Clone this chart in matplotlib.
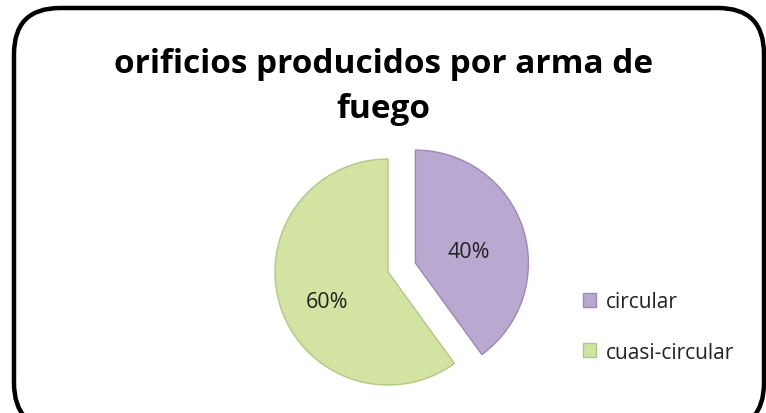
import matplotlib
matplotlib.use("Agg")
import matplotlib.pyplot as plt
from matplotlib.patches import FancyBboxPatch
from matplotlib.transforms import offset_copy

title = "orificios producidos por arma de\nfuego"
labels = ["circular", "cuasi-circular"]
values = [40, 60]
colors = ["#B9A9D1", "#D3E3A2"]
edge_colors = ["#9A88B8", "#B2C783"]

W, H = 766, 414
fig = plt.figure(figsize=(W / 100, H / 100), dpi=100)
fig.patch.set_facecolor("white")

# rounded border (bottom runs off the image)
x0, y0, x1, y1 = 14, 9, 764, 430
box = FancyBboxPatch((x0 / W, 1 - y1 / H), (x1 - x0) / W, (y1 - y0) / H,
                     boxstyle="round,pad=0,rounding_size=0.06",
                     transform=fig.transFigure, fill=False, edgecolor="black",
                     linewidth=3.2, mutation_aspect=W / H)
fig.add_artist(box)

fig.text(383 / W, 1 - 87 / H, title, ha="center", va="center", multialignment="center",
         fontsize=24, fontweight="bold", family=["Open Sans", "DejaVu Sans"],
         linespacing=1.5, color="black")

# pie axes: green centre at (388,273), radius ~113 px
R = 113
cx, cy = 388, 273
ax = fig.add_axes([(cx - R * 1.4) / W, 1 - (cy + R * 1.4) / H, 2.8 * R / W, 2.8 * R / H])
wedges, texts, autotexts = ax.pie(
    values, colors=colors, startangle=90, counterclock=False,
    explode=[0.255, 0], radius=1.0, autopct="%d%%", pctdistance=0.5,
    wedgeprops=dict(linewidth=1.0),
    textprops=dict(fontsize=15.5, family=["Open Sans", "DejaVu Sans"], color="#222222"))
for w, ec in zip(wedges, edge_colors):
    w.set_edgecolor(ec)
# small label nudges (in points) to match the reference placement
nudges = [(0, -4), (-5, -9)]
for t, (dx, dy) in zip(autotexts, nudges):
    t.set_transform(offset_copy(ax.transData, fig=fig, x=dx, y=dy, units="points"))
ax.set_xlim(-1.4, 1.4)
ax.set_ylim(-1.4, 1.4)
ax.set_aspect("equal")
ax.axis("off")

leg = fig.legend(wedges, labels, loc="center left",
                 bbox_to_anchor=(564 / W, 1 - 328 / H),
                 frameon=False, handlelength=0.65, handleheight=0.65,
                 handletextpad=0.45, labelspacing=1.4,
                 prop=dict(family=["Open Sans", "DejaVu Sans"], size=15))
for t in leg.get_texts():
    t.set_color("#222222")

fig.savefig("out.png", dpi=100)
